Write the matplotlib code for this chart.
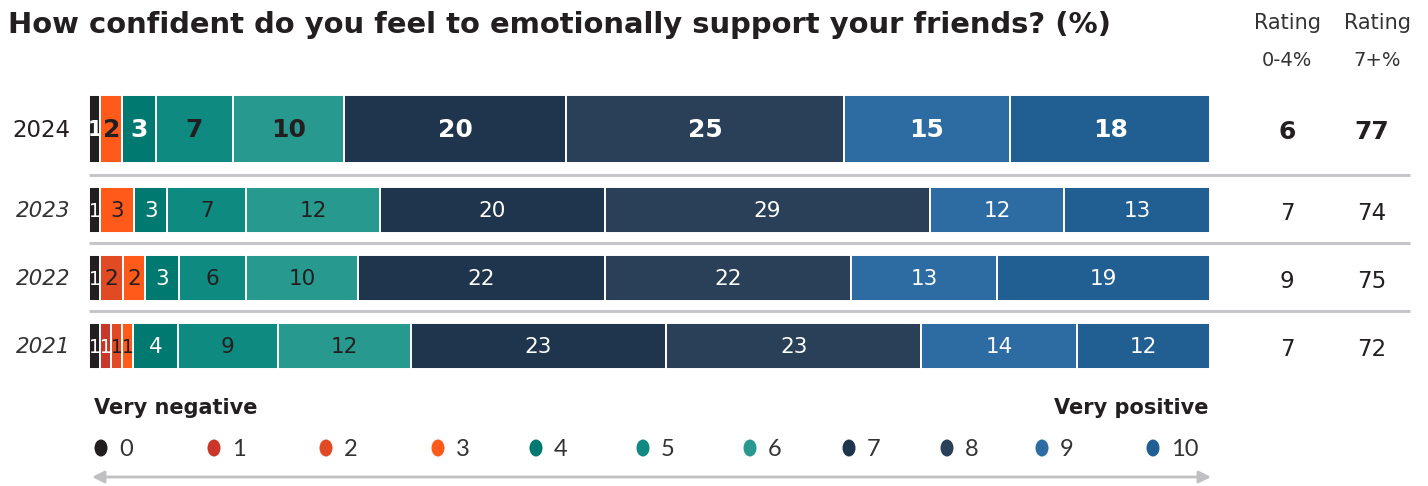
import matplotlib
matplotlib.use("Agg")
import matplotlib.pyplot as plt
from matplotlib.patches import Ellipse
import numpy as np

plt.rcParams["font.family"] = ["DejaVu Sans"]

# ---- data -------------------------------------------------------------
years = ["2024", "2023", "2022", "2021"]
scores = ["0", "1", "2", "3", "4", "5", "6", "7", "8", "9", "10"]
share_2024 = [1, 0, 0, 2, 3, 7, 10, 20, 25, 15, 18]
share_2023 = [1, 0, 0, 3, 3, 7, 12, 20, 29, 12, 13]
share_2022 = [1, 0, 2, 2, 3, 6, 10, 22, 22, 13, 19]
share_2021 = [1, 1, 1, 1, 4, 9, 12, 23, 23, 14, 12]
rating_low = [6, 7, 9, 7]       # rating 0-4 %
rating_high = [77, 74, 75, 72]  # rating 7+ %

colors = ["#231F20", "#C8372A", "#E04A24", "#FF5A1A", "#007A70", "#0E8A80",
          "#27998E", "#1F344D", "#2A3F58", "#2D6CA2", "#215F92"]
label_dark = [False, False, True, True, False, True, True, False, False, False, False]

DARK = "#231F20"
GRID = "#C6C6CA"

W, H = 1428, 486
fig = plt.figure(figsize=(W / 100, H / 100), dpi=100)

# overlay axes in pixel units for text and decorations
ov = fig.add_axes([0, 0, 1, 1])
ov.set_xlim(0, W)
ov.set_ylim(H, 0)
ov.axis("off")

# bar axes: x in percent of each row's total
ax = fig.add_axes([89 / W, 0, (1210 - 89) / W, 1])
ax.set_xlim(0, 100)
ax.set_ylim(H, 0)
ax.axis("off")

rows = [share_2024, share_2023, share_2022, share_2021]
row_y = [129, 210, 278, 346]
row_h = [68, 46, 46, 46]

for i, (vals, y, h) in enumerate(zip(rows, row_y, row_h)):
    vals = np.array(vals, dtype=float)
    widths = vals / vals.sum() * 100
    lefts = np.concatenate([[0], np.cumsum(widths)[:-1]])
    ax.barh([y] * len(vals), widths, left=lefts, height=h, color=colors,
            edgecolor="white", linewidth=1.4)
    bold = i == 0
    for k, (v, l, w) in enumerate(zip(vals, lefts, widths)):
        if v <= 0:
            continue
        size = 18 if bold else 15.5
        if w < 1.5:
            size = 15 if bold else 13.5
        ax.text(l + w / 2, y + 1, f"{int(v)}", ha="center", va="center",
                fontsize=size,
                fontweight="bold" if bold else "normal",
                color=DARK if label_dark[k] else "white")
    # year label
    ov.text(70, y + 1, years[i], ha="right", va="center",
            fontsize=16.5 if bold else 15.5,
            style="normal" if bold else "italic",
            color=DARK if bold else "#333333")
    # rating columns
    ov.text(1287, y + 3, f"{rating_low[i]}", ha="center", va="center",
            fontsize=18 if bold else 16.5,
            fontweight="bold" if bold else "normal", color=DARK)
    ov.text(1372, y + 3, f"{rating_high[i]}", ha="center", va="center",
            fontsize=18 if bold else 16.5,
            fontweight="bold" if bold else "normal", color=DARK)

# row separators
for yy in [175, 243, 311]:
    ov.plot([89, 1410], [yy, yy], color=GRID, lw=2.2, solid_capstyle="butt")

# column headers
for xc, sub in [(1287, "0-4%"), (1377, "7+%")]:
    ov.text(xc, 23, "Rating", ha="center", va="center", fontsize=15, color="#333333")
    ov.text(xc, 61, sub, ha="center", va="center", fontsize=14, color="#333333")

# title, fitted to its width
title = ov.text(8, 25, "How confident do you feel to emotionally support your friends? (%)",
                ha="left", va="center", fontsize=20, fontweight="bold", color=DARK)
fig.canvas.draw()
bb = title.get_window_extent()
title.set_fontsize(20 * (1112 - 8) / bb.width)

# scale legend
ov.text(94, 408, "Very negative", ha="left", va="center", fontsize=15,
        fontweight="semibold", color=DARK)
ov.text(1209, 408, "Very positive", ha="right", va="center", fontsize=15,
        fontweight="semibold", color=DARK)
dot_x = [101, 214, 326, 438, 536, 643, 750, 849, 947, 1042, 1153]
for xd, c, s in zip(dot_x, colors, scores):
    ov.add_patch(Ellipse((xd, 448), 13, 17, facecolor=c, edgecolor="none"))
    ov.text(xd + 18, 449, s, ha="left", va="center", fontsize=17,
            color="#333333", family=["Lato", "DejaVu Sans"])

ov.annotate("", xy=(1211, 477), xytext=(92, 477),
            arrowprops=dict(arrowstyle="<|-|>", color="#C0C0C4", lw=2,
                            mutation_scale=18, shrinkA=0, shrinkB=0))

fig.savefig("out.png", dpi=100)
